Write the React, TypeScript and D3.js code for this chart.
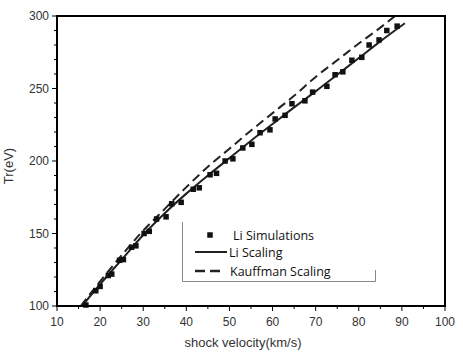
import React from "react";
import * as d3 from "d3";

const simV = [16.7, 19.0, 20.0, 21.9, 22.7, 24.5, 25.4, 27.3, 28.3, 30.2, 31.4, 33.1, 35.3, 36.6, 38.8, 41.6, 43.0, 45.5, 47.0, 49.0, 50.8, 53.1, 55.2, 57.1, 59.4, 60.6, 62.9, 64.5, 67.5, 69.3, 72.6, 74.5, 76.3, 78.4, 80.7, 82.4, 84.7, 86.5, 88.9];
const simT = [100.7, 110.5, 113.5, 121, 122, 131.5, 132, 140.5, 141.5, 150, 151.5, 160, 161.5, 170.5, 171.5, 180.5, 181.5, 190.5, 191.5, 200, 201.5, 209, 211.5, 219.5, 221.5, 229, 231.5, 239.5, 241.5, 247.5, 251.5, 259.5, 261.5, 269.5, 271.5, 280, 283.5, 290, 293];

const liV = [15.8, 20, 25, 30, 35, 40, 45, 50, 55, 60, 65, 70, 75, 80, 85, 90.7];
const liT = [100, 115, 132, 149, 164, 177.5, 190, 202, 214, 225.5, 237, 248, 259.5, 271, 282.5, 295];

const kaV = [15.5, 20, 25, 30, 35, 40, 45, 50, 55, 60, 65, 70, 75, 80, 85, 88.4];
const kaT = [100, 117, 135, 152, 167, 182, 196, 208.5, 221, 233, 245, 258, 269.5, 281, 292, 300];

const xTicks = [10, 20, 30, 40, 50, 60, 70, 80, 90, 100];
const yTicks = [100, 150, 200, 250, 300];
const legendLabels = ["Li Simulations", "Li Scaling", "Kauffman Scaling"];

export default function App() {
  const W = 463, H = 358;
  const x = d3.scaleLinear().domain([10, 100]).range([57, 445]);
  const y = d3.scaleLinear().domain([100, 300]).range([306, 16]);
  const line = d3.line<[number, number]>().x(d => x(d[0])).y(d => y(d[1])).curve(d3.curveMonotoneX);
  const liPts: [number, number][] = liV.map((v, i) => [v, liT[i]]);
  const kaPts: [number, number][] = kaV.map((v, i) => [v, kaT[i]]);
  const xMinor = d3.range(15, 100, 10);
  const yMinor = d3.range(110, 300, 10).filter(v => v % 50 !== 0);
  const sq = 5.5;
  const tickFont = "Liberation Sans, Arial, sans-serif";
  const legFont = "Open Sans, sans-serif";
  return (
    <svg width={W} height={H} style={{ position: "absolute", left: 0, top: 0, background: "#fff" }}>
      <rect x={0} y={0} width={W} height={H} fill="#fff" />
      {/* data */}
      <path d={line(kaPts) || ""} fill="none" stroke="#222" strokeWidth={2} strokeDasharray="9,5" />
      <path d={line(liPts) || ""} fill="none" stroke="#222" strokeWidth={2} />
      {simV.map((v, i) => (
        <rect key={i} x={x(v) - sq / 2} y={y(simT[i]) - sq / 2} width={sq} height={sq} fill="#111" />
      ))}
      {/* frame */}
      <rect x={57} y={16} width={388} height={290} fill="none" stroke="#000" strokeWidth={2} />
      {/* y ticks */}
      {yTicks.map(t => (
        <g key={"y" + t}>
          <line x1={52} x2={57} y1={y(t)} y2={y(t)} stroke="#000" strokeWidth={1} />
          <text x={49} y={y(t)} dy="0.35em" textAnchor="end" fontSize={12} fill="#333" fontFamily={tickFont}>{t}</text>
        </g>
      ))}
      {yMinor.map(t => (
        <line key={"ym" + t} x1={54} x2={57} y1={y(t)} y2={y(t)} stroke="#000" strokeWidth={1} />
      ))}
      {/* x ticks */}
      {xTicks.map(t => (
        <g key={"x" + t}>
          <line x1={x(t)} x2={x(t)} y1={306} y2={311} stroke="#000" strokeWidth={1} />
          <text x={x(t)} y={326} textAnchor="middle" fontSize={12} fill="#333" fontFamily={tickFont}>{t}</text>
        </g>
      ))}
      {xMinor.map(t => (
        <line key={"xm" + t} x1={x(t)} x2={x(t)} y1={306} y2={309} stroke="#000" strokeWidth={1} />
      ))}
      {/* axis titles */}
      <text x={243} y={347} textAnchor="middle" fontSize={13} fill="#333" fontFamily={tickFont}>shock velocity(km/s)</text>
      <text transform="translate(13,166) rotate(-90)" textAnchor="middle" fontSize={13} fill="#333" fontFamily={tickFont}>Tr(eV)</text>
      {/* legend */}
      <path d="M182.5,222 V281.5 H375.5 V270" fill="none" stroke="#888" strokeWidth={1} />
      <rect x={210 - 2.75} y={235 - 2.75} width={5.5} height={5.5} fill="#111" />
      <line x1={195} x2={227} y1={252} y2={252} stroke="#222" strokeWidth={2} />
      <line x1={195} x2={205} y1={271} y2={271} stroke="#222" strokeWidth={2.5} />
      <line x1={210} x2={220} y1={271} y2={271} stroke="#222" strokeWidth={2.5} />
      <text x={233} y={236} dy="0.35em" fontSize={12.5} fill="#111" fontFamily={legFont}>{legendLabels[0]}</text>
      <text x={229} y={253} dy="0.35em" fontSize={12.5} fill="#111" fontFamily={legFont}>{legendLabels[1]}</text>
      <text x={230} y={272} dy="0.35em" fontSize={12.5} fill="#111" fontFamily={legFont}>{legendLabels[2]}</text>
    </svg>
  );
}
